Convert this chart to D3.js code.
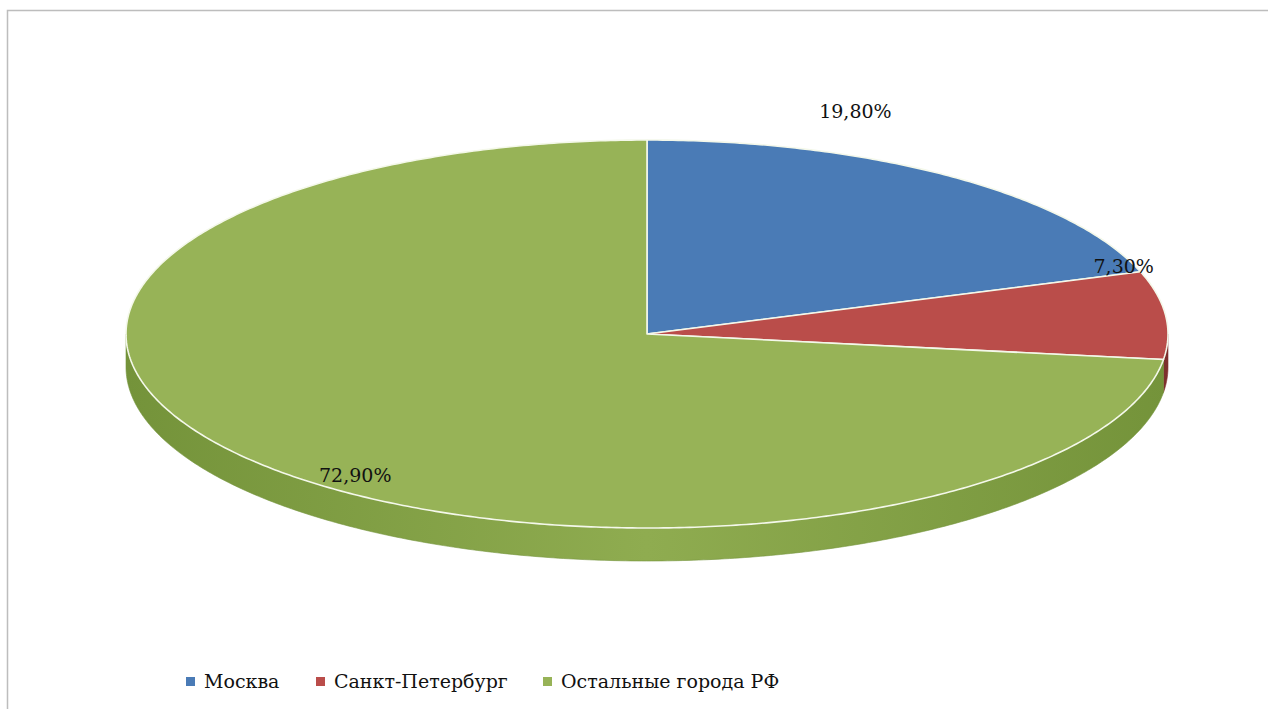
<!DOCTYPE html>
<html><head><meta charset="utf-8">
<script src="https://cdn.jsdelivr.net/npm/d3@7"></script>
<style>html,body{margin:0;padding:0;background:#fff;}svg{display:block;}
text{font-family:"DejaVu Serif",serif;}</style>
</head><body>
<svg id="chart" width="1268" height="709"></svg>
<script>
const categories = ["Москва", "Санкт-Петербург", "Остальные города РФ"];
const values = [19.8, 7.3, 72.9];
const labels = ["19,80%", "7,30%", "72,90%"];
const colors = ["#4A7BB6", "#BA4D4A", "#97B357"];
const sideColors = [["#35608f", "#4A78AE"], ["#7d2f2d", "#a04340"], ["#74933A", "#8FAC50"]];
// label anchor as fractions of the pie radii (relative to centre)
const labelPos = [[0.40, -1.113], [0.915, -0.314], [-0.56, 0.763]];

const svg = d3.select("#chart");
const W = 1268, H = 709;
const cx = 647, cy = 334, rx = 521, ry = 194, depth = 33;

// frame
svg.append("path").attr("d", `M7.5,${H} L7.5,10.5 L${W},10.5`).attr("fill", "none").attr("stroke", "#bdbdbd").attr("stroke-width", 1.5);

const pie = d3.pie().sort(null).value(d => d)(values);
const px = a => cx + rx * Math.sin(a);
const py = a => cy - ry * Math.cos(a);
const line = d3.line();

const defs = svg.append("defs");
sideColors.forEach((c, i) => {
  const g = defs.append("linearGradient").attr("id", "side" + i)
    .attr("gradientUnits", "userSpaceOnUse").attr("x1", cx - rx).attr("x2", cx + rx).attr("y1", 0).attr("y2", 0);
  g.append("stop").attr("offset", "0").attr("stop-color", c[0]);
  g.append("stop").attr("offset", "0.5").attr("stop-color", c[1]);
  g.append("stop").attr("offset", "1").attr("stop-color", c[0]);
});

function arcPts(a0, a1, yoff) {
  const n = Math.max(2, Math.ceil(Math.abs(a1 - a0) / 0.01));
  const pts = [];
  for (let k = 0; k <= n; k++) { const a = a0 + (a1 - a0) * k / n; pts.push([px(a), py(a) + yoff]); }
  return pts;
}

// sides
const gSide = svg.append("g");
pie.forEach((d, i) => {
  const s = Math.max(d.startAngle, Math.PI / 2), e = Math.min(d.endAngle, 3 * Math.PI / 2);
  if (e <= s) return;
  const top = arcPts(s, e, 0), bot = arcPts(e, s, depth);
  gSide.append("path").attr("d", line(top.concat(bot)) + "Z").attr("fill", `url(#side${i})`)
    .attr("stroke", sideColors[i][0]).attr("stroke-width", 0.6);
});

// top faces
const gTop = svg.append("g");
pie.forEach((d, i) => {
  const pts = [[cx, cy]].concat(arcPts(d.startAngle, d.endAngle, 0));
  gTop.append("path").attr("d", line(pts) + "Z").attr("fill", colors[i])
    .attr("stroke", "#f4f8ea").attr("stroke-width", 1.6).attr("stroke-linejoin", "round");
});

// labels
pie.forEach((d, i) => {
  const x = cx + labelPos[i][0] * rx, y = cy + labelPos[i][1] * ry;
  svg.append("text").attr("x", x).attr("y", y)
    .attr("text-anchor", "middle").attr("font-size", 19)
    .attr("fill", "#111").text(labels[i]);
});

// legend
const offs = [186, 316, 543];
const leg = svg.append("g");
categories.forEach((c, i) => {
  const g = leg.append("g").attr("transform", `translate(${offs[i]},0)`);
  g.append("rect").attr("x", 0).attr("y", 677).attr("width", 9).attr("height", 9).attr("fill", colors[i]);
  g.append("text").attr("x", 18).attr("y", 688)
    .attr("font-size", 19).attr("fill", "#111").text(c);
});
</script>
</body></html>
